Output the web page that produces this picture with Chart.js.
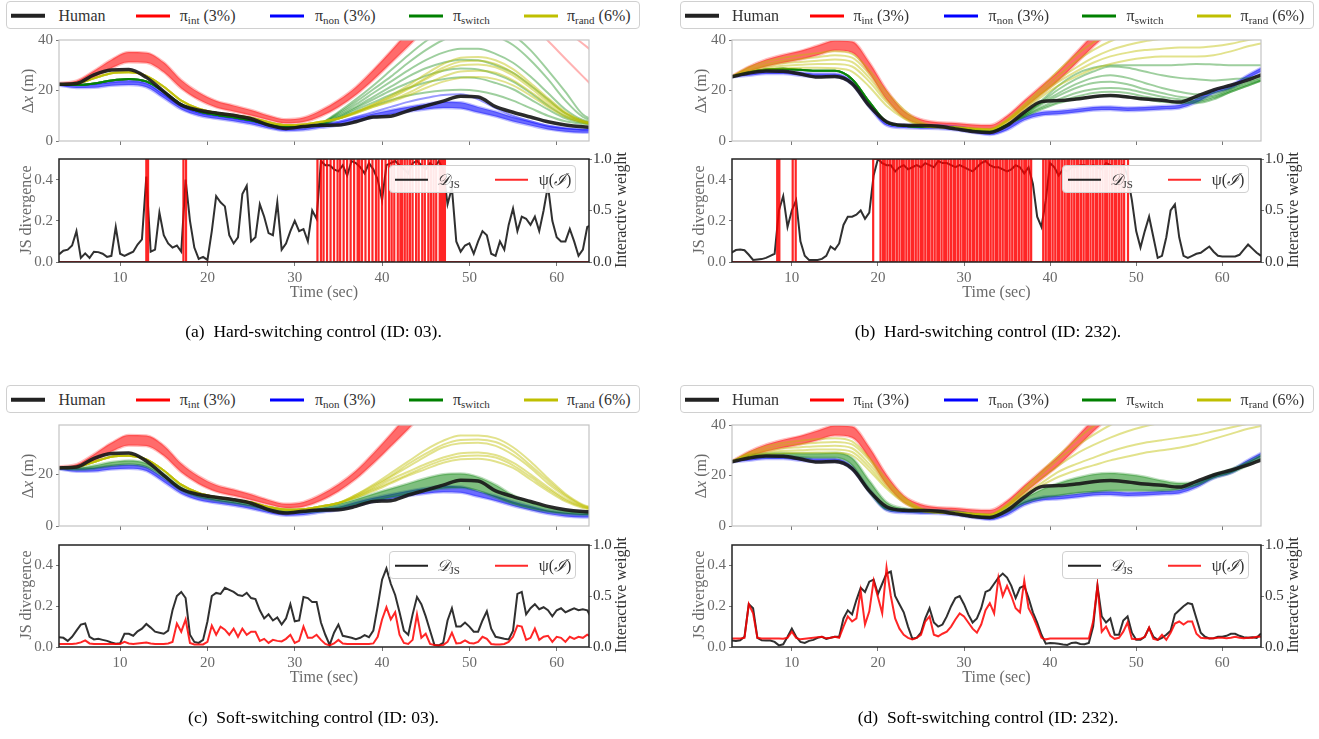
<!DOCTYPE html>
<html><head><meta charset="utf-8">
<script src="https://cdn.jsdelivr.net/npm/chart.js@4/dist/chart.umd.min.js"></script>
<style>
html,body{margin:0;padding:0;background:#fff;}
body{width:1319px;height:739px;position:relative;overflow:hidden;font-family:'Liberation Serif','DejaVu Serif',serif;}
canvas{position:absolute;}
.lbl{position:absolute;white-space:nowrap;transform:translate(-50%,-50%);line-height:1;}
.rot{transform:translate(-50%,-50%) rotate(-90deg);}
.leg{position:absolute;border:1px solid #d0d0d0;border-radius:4px;background:rgba(255,255,255,0.9);box-sizing:border-box;}
.sw{position:absolute;transform:translateY(-50%);}
.tx{position:absolute;white-space:nowrap;transform:translateY(-50%);line-height:1;color:#333;}
sub{font-size:11px;vertical-align:-3px;line-height:0;}
</style></head><body>
<script>
// ---------------- DATA ----------------
const XTICKS=[10,20,30,40,50,60];
const YT_TOP=[0,20,40], YT_TOP_C=[0,20], YT_JS=[0,0.2,0.4], YT_W=[0,0.5,1];
// top-panel time grid (s)
const T=[3,5,7,9,11,13,15,17,19,21,23,25,27,29,31,33,35,37,39,41,43,45,47,49,51,53,55,57,59,61,63,65];
// ---- ID 03 ----
const HUMAN03=[22.5,22.8,26.2,28.1,28.3,25.2,19.6,14.3,12.2,11.1,10.2,8.8,6.3,5.0,5.7,6.2,6.3,7.6,9.5,9.8,12.0,13.9,15.8,17.7,17.4,13.6,11.4,9.5,7.6,6.3,5.6,5.3];
const RED03_LO=[22.4,22.7,25.2,28.8,31.2,31.0,27.2,20.8,16.3,13.3,11.7,10.1,8.3,7.0,7.5,9.8,13.4,18.2,24.2,30.8,37.5,44.5,51.5,null,null,null,null,null,null,null,null,null];
const RED03_HI=[23.0,23.9,27.8,32.2,35.2,35.0,31.2,24.2,19.3,15.9,14.1,12.3,10.1,8.6,9.3,12.2,16.2,21.4,28.2,35.6,43.5,51.5,59.5,null,null,null,null,null,null,null,null,null];
const RED03_OUT1=[null,null,null,null,null,null,null,null,null,null,null,null,null,null,null,null,null,null,null,null,null,null,null,null,null,null,53.5,46.5,39.7,32.6,25.6,18.6];
const RED03_OUT2=[null,null,null,null,null,null,null,null,null,null,null,null,null,null,null,null,null,null,null,null,null,null,null,null,null,null,null,null,null,44,38.5,33];
const BLUE03_LO=[21.9,21.0,21.1,21.9,22.2,21.3,17.0,12.5,10.0,8.8,7.8,6.6,5.0,4.0,4.3,5.2,6.1,7.7,9.3,10.5,11.6,12.5,13.1,12.9,11.3,9.7,7.7,6.1,4.6,3.7,3.3,3.2];
const BLUE03_HI=[22.6,22.3,22.5,23.3,23.7,22.8,18.5,14.0,11.4,10.2,9.2,8.0,6.4,5.4,5.7,6.6,7.5,9.3,10.9,12.3,13.6,14.7,15.5,15.3,13.5,11.7,9.5,7.7,6.0,5.1,4.7,4.6];
const BLUE03_OUT=[22.6,22.3,22.6,23.5,24.0,23.0,18.5,13.8,11.2,10.0,9.0,7.8,6.2,5.2,5.5,6.5,7.6,9.5,11.5,13.5,15.5,17.0,18.2,18.5,16.5,13.0,10.0,7.8,6.0,5.0,4.5,4.3];
// green (hard-switching, ID 03): shared start t=3..31 and divergent tails t=33..65
const GREEN03_BASE=[22.4,22.2,22.8,24.0,24.6,23.6,19.5,14.5,11.8,10.4,9.4,8.2,6.6,5.7,5.8];
const G03_1=[7,11.5,16.5,22,28,34,39.5,44,46.5,47,46,42,36,28,19.5,10.5,7.5];
const G03_2=[7,11,15.5,20.5,25.5,31,36,40,42.5,43,41.5,38,32,24.5,16,9.5,7];
const G03_3=[6.8,10.5,14.5,19,23.5,28,32,35,36.5,36.5,34.5,31,25.5,19,12.5,8.3,6.8];
const G03_4=[6.6,10,13.5,17.5,21.5,25.5,28.8,31,32.2,32,30,27,22,16.5,11,7.8,6.6];
const G03_5=[6.5,9.5,13,16.5,20,23,25.8,27.8,28.7,28.3,26.5,23.5,19,14,9.8,7.5,6.4];
const G03_6=[6.4,9.2,12.3,15.3,18.3,21,23.2,24.5,25.2,24.8,23,20.5,16.5,12.5,9,7.2,6.3];
const G03_7=[6.2,8.8,11.5,14,16.2,18,19.2,20,20.3,19.8,18.3,16,13,10,7.8,6.8,6.2];
// yellow (ID 03): shared start t=3..35 and tails t=37..65
const YELLOW03_BASE=[22.5,22.8,24.8,26.8,27.2,25.8,21.5,16,12.8,11.2,10.2,9.2,7.4,6.3,6.5,7.6,8.9];
const Y03_1=[11.4,14.5,18,22,26.5,30.5,33,33.3,32,28.5,23,17,11.5,8,6.8];
const Y03_2=[11.4,14,17,20.5,24.5,28,30,30.3,29.2,26,21,15.5,10.8,7.7,6.6];
const Y03_3=[11,13.5,16,19,22.5,25.5,27.5,27.8,27,24,19.5,14.5,10,7.4,6.4];
const Y03_4=[11,13.5,15.5,18,21,23.5,25,25.3,24.5,22,18,13.5,9.5,7.2,6.2];
const Y03_5=[11.5,14.5,17.5,21,25,29,31.5,31.8,30.5,27,22,16.2,11,7.8,6.7];
// soft-switching (ID 03)
const GREEN03C_LO=[22.2,21.8,22.2,23.2,23.8,22.8,18.8,13.8,11.2,9.8,8.8,7.6,6.0,5.1,5.2,5.6,6.8,8.2,9.7,11.0,12.3,13.5,14.5,14.8,13.6,11.0,8.5,6.8,5.5,4.7,4.3,4.2];
const GREEN03C_HI=[22.6,22.6,23.4,24.8,25.4,24.4,20.2,15.2,12.4,11.0,10.0,8.8,7.2,6.3,6.4,7.0,8.6,10.4,12.5,14.5,16.5,18.5,20.0,20.3,19.0,16.0,12.0,9.2,7.2,5.9,5.4,5.2];
const YC_1=[12,16,20.5,25,29.5,33,35,35,34,30.5,25,18.5,12.5,8.3,6.5];
const YC_2=[12,15.5,19.5,24,28,31.5,33.3,33.5,32.5,29,23.5,17.5,12,8,6.3];
const YC_3=[11.5,15,19,23,27,30.5,32,32.2,31,27.5,22.5,16.5,11.5,7.8,6.2];
const YC_4=[11.5,14.5,18,21,24,26.5,28.2,28.5,27.5,24.5,20,15,10.5,7.5,6];
const YC_5=[11,14,17,20,23,25.5,27,27.3,26.5,23.5,19,14.3,10,7.3,5.9];
const YC_6=[11,13.5,16.5,19.5,22,24.5,25.8,26,25,22.5,18,13.5,9.5,7,5.8];
// ---- ID 232 ----
const HUMAN232=[25.4,26.9,27.7,27.6,26.5,25.3,25.5,22.7,13.9,7.6,6.2,6.1,5.8,4.8,3.8,3.4,6.1,11.4,15.6,16.0,16.6,17.5,18.0,17.4,16.6,16.1,15.4,17.7,20.2,22.1,24.2,26.7];
const RED232_LO=[25.3,27.5,29.5,31.0,32.3,34.0,35.8,35.0,26.8,16.3,9.3,6.6,5.8,5.5,4.9,4.7,7.6,13.0,18.5,24.0,30.6,37.3,43.5,50.5,null,null,null,null,null,null,null,null];
const RED232_HI=[25.7,29.5,32.3,34.2,35.7,37.8,39.8,39.4,31.2,20.3,12.1,8.6,7.4,7.1,6.5,6.3,10.0,16.0,21.9,27.8,35.0,42.1,48.5,55.5,null,null,null,null,null,null,null,null];
const BLUE232_LO=[25.2,25.8,26.5,26.5,25.8,25.3,25.3,22.3,13.3,6.1,5.1,4.9,4.8,4.3,3.3,2.4,4.3,8.2,10.1,10.6,11.3,12.1,12.3,11.9,12.1,12.5,12.9,15.2,18.8,20.8,24.8,28.3];
const BLUE232_HI=[25.8,27.2,27.9,27.9,27.2,26.7,26.7,23.7,14.7,7.5,6.5,6.3,6.2,5.7,4.7,3.7,5.7,9.6,11.5,12.0,12.7,13.5,13.7,13.3,13.5,13.9,14.3,16.8,20.2,22.2,26.2,29.9];
const GREEN232_BASE=[25.5,27.2,28.3,28.6,28.2,27.8,27.8,24.5,15.5,7.5,6.0,5.6,5.6,5.2,4.3,3.8,6.5];
const GB_1=[11,16,22,26.5,29,30,30,30,30,30.2,30.5,30.3,30,30,30];
const GB_2=[11,15.5,20.5,24.5,27.5,29.5,29,27.5,26,25,24.5,24,24.5,25,26];
const GB_3=[10.5,15,19,22.5,25,26,25,23,21,19.5,18.5,19,21,23.5,25.5];
const GB_4=[10.5,14.5,18,21,23,23.5,22.5,20.5,19,17.5,17,18,20.5,23,25];
const GB_5=[10,13.5,16.5,19,20.5,21,20.5,19,17.5,16.5,16,17.5,20,22.5,24.5];
const GB_6=[10,13,15.5,17.5,19,19.5,19,17.5,16.5,15.5,15.5,17,19.5,22,24.5];
const GB_7=[9.5,12.5,15,16.5,17.5,18,17.5,16.5,15.5,15,15,16.5,19.5,22,24.5];
const YB_1=[25.5,29.2,31.5,33,34,34.8,35.5,34.5,28,19.5,12.5,7.5,5.8,5.5,5.0,4.8,8.5,14.5,21,28,34,39,43,46,48,50,52,54,56,58,60,62];
const YB_2=[25.5,28.5,30.5,31.8,32.5,33.2,34,33,26.5,18,11.5,7,5.6,5.4,5.0,4.6,8.2,14,20,26,31.5,36,39.5,42,44,45.5,47,48.5,50,51.5,53,54.5];
const YB_3=[25.5,28,29.8,30.8,31.3,31.8,32.3,31.3,25,16.5,10.5,6.5,5.5,5.3,4.9,4.5,8,13.5,19,24.5,29,33,36,38,39.5,40.5,41.5,42.5,44,45,46,47];
const YB_4=[25.5,27.5,29,29.8,30.2,30.5,30.5,29.5,23.5,15.5,9.5,6.2,5.4,5.2,4.8,4.4,7.8,13,18.5,23.5,27.5,31,33.5,35,36,36.5,37,37,37.5,38.5,40,41];
const YB_5=[25.5,27.2,28.3,28.8,29,29,28.8,27.5,21.5,14,9,6,5.3,5.1,4.7,4.3,7.5,12.5,17.5,22,25.5,28.5,30.5,32,33,33.5,33.5,33.5,34,35.5,37.5,39];
const GREEN232D_LO=[25.4,26.8,27.3,27.3,27.0,27.0,27.0,24.0,13.5,6.5,5.8,5.5,5.3,4.8,3.8,3.2,5.5,9.0,11.0,12.0,13.0,13.5,14.0,14.0,14.0,14.0,14.5,16.0,19.0,21.0,24.0,27.5];
const GREEN232D_HI=[25.6,28.0,28.8,29.0,28.8,28.8,29.0,27.0,18.0,9.5,7.0,6.5,6.2,5.8,4.8,4.2,7.0,11.0,14.5,17.0,19.0,20.5,21.0,20.5,19.5,18.0,17.0,17.5,20.5,22.5,25.5,29.0];
const YD_1=[25.5,29,31.5,33,33.8,34.5,34.8,33.5,27,18.5,11.5,7,5.6,5.4,5,4.6,8.5,15,21.5,28,34,39.5,44,48,51,54,57,60,63,66,69,72];
const YD_2=[25.5,28.5,30.5,32,32.5,33,33.3,32.3,26,17.5,11,6.8,5.5,5.3,4.9,4.5,8.2,14.5,20.5,26.5,31.5,36,40,43,46,48.5,51,53,55,57,59,61];
const YD_3=[25.5,28,29.8,30.8,31.2,31.6,31.8,30.8,24.5,16.5,10.3,6.5,5.4,5.2,4.8,4.4,8,13.5,19,24,28.5,32,35,37.5,39.5,41,42.5,44,46,48,50,52];
const YD_4=[25.5,27.6,29,29.8,30,30.3,30.3,29.3,23.2,15.5,9.8,6.2,5.3,5.1,4.7,4.3,7.8,12.5,17,21.5,24.5,27,29.5,31.5,33,34,35,36,37.5,39,40.5,42];
const YD_5=[25.5,27.2,28.3,28.8,29,29.1,29,28,22,14.8,9.3,6,5.2,5,4.6,4.2,7.6,12,16,19.5,22,24,26,27.5,29,30,31,32.5,34.5,36.5,38.5,40];
// bottom-panel time grid (s)
const TJ=[3,3.5,4,4.5,5,5.5,6,6.5,7,7.5,8,8.5,9,9.5,10,10.5,11,11.5,12,12.5,13,13.5,14,14.5,15,15.5,16,16.5,17,17.5,
18,18.5,19,19.5,20,20.5,21,21.5,22,22.5,23,23.5,24,24.5,25,25.5,26,26.5,27,27.5,28,28.5,29,29.5,30,30.5,31,31.5,32,32.5,
33,33.5,34,34.5,35,35.5,36,36.5,37,37.5,38,38.5,39,39.5,40,40.5,41,41.5,42,42.5,43,43.5,44,44.5,45,45.5,46,46.5,47,47.5,
48,48.5,49,49.5,50,50.5,51,51.5,52,52.5,53,53.5,54,54.5,55,55.5,56,56.5,57,57.5,58,58.5,59,59.5,60,60.5,61,61.5,62,62.5,
63,63.5,64,64.5];
const JS_A=[0.037,0.055,0.06,0.08,0.15,0.02,0.042,0.02,0.05,0.048,
0.04,0.025,0.03,0.17,0.04,0.03,0.04,0.05,0.085,0.11,
0.415,0.05,0.06,0.24,0.13,0.09,0.07,0.08,0.05,0.40,
0.20,0.07,0.015,0.025,0.01,0.15,0.32,0.29,0.27,0.13,
0.09,0.12,0.33,0.37,0.10,0.12,0.28,0.22,0.14,0.13,
0.29,0.06,0.09,0.15,0.20,0.15,0.16,0.10,0.25,0.21,
0.49,0.47,0.47,0.45,0.44,0.47,0.42,0.49,0.48,0.46,
0.43,0.48,0.45,0.40,0.30,0.47,0.48,0.49,0.47,0.45,
0.43,0.48,0.49,0.47,0.45,0.48,0.46,0.49,0.45,0.28,
0.36,0.10,0.05,0.08,0.09,0.04,0.10,0.15,0.13,0.04,
0.03,0.10,0.06,0.18,0.26,0.15,0.22,0.21,0.18,0.22,
0.15,0.25,0.37,0.20,0.12,0.10,0.10,0.16,0.10,0.03,
0.06,0.17,0.18,0.18];
const PSI_A_ON=[[13.0,13.2],[17.25,17.55],[32.6,33.0],[33.3,33.7],[34.1,34.5],[34.9,35.2],[35.6,36.0],[36.4,36.8],[37.2,37.4],[37.7,38.1],[38.5,38.9],[39.3,39.6],[40.0,40.4],[40.8,41.1],[41.4,41.8],[42.1,42.3],[42.6,42.9],[43.2,43.5],[43.9,44.2],[44.6,44.9],[45.3,45.6],[45.9,46.2],[46.6,46.8],[47.0,47.2]];
const JS_B=[0.045,0.058,0.061,0.057,0.035,0.01,0.012,0.014,0.02,0.03,
0.04,0.25,0.32,0.17,0.25,0.30,0.10,0.03,0.01,0.01,
0.01,0.015,0.03,0.075,0.06,0.09,0.18,0.22,0.22,0.23,
0.25,0.21,0.24,0.42,0.50,0.48,0.47,0.47,0.44,0.46,
0.47,0.45,0.46,0.47,0.46,0.48,0.47,0.46,0.49,0.48,
0.48,0.47,0.46,0.47,0.46,0.45,0.44,0.46,0.48,0.49,
0.47,0.46,0.46,0.45,0.44,0.45,0.47,0.46,0.43,0.46,
0.38,0.22,0.17,0.30,0.48,0.46,0.42,0.45,0.44,0.46,
0.46,0.47,0.47,0.46,0.47,0.46,0.45,0.48,0.47,0.46,
0.46,0.47,0.42,0.30,0.15,0.07,0.15,0.22,0.12,0.02,
0.03,0.12,0.25,0.28,0.12,0.03,0.02,0.03,0.04,0.045,
0.06,0.075,0.05,0.03,0.027,0.027,0.027,0.027,0.035,0.06,
0.085,0.065,0.045,0.03];
const PSI_B_ON=[[8.3,8.55],[10.1,10.45],[19.45,20.3],[20.6,20.8],[21.1,21.4],[21.7,21.9],[22.2,22.5],[22.8,23.0],[23.3,23.6],[23.9,24.1],[24.4,24.7],[25.0,25.2],[25.5,25.8],[26.0,26.3],[26.6,26.9],[27.1,27.4],[27.7,27.9],[28.2,28.5],[28.8,29.0],[29.3,29.6],[29.9,30.1],[30.4,30.7],[31.0,31.2],[31.5,31.8],[32.0,32.3],[32.6,32.8],[33.1,33.4],[33.7,33.9],[34.2,34.5],[34.8,35.0],[35.3,35.6],[35.9,36.1],[36.4,36.7],[37.0,37.2],[37.5,37.8],[39.2,39.5],[39.8,40.0],[40.3,40.6],[40.9,41.1],[41.4,41.7],[42.0,42.2],[42.5,42.8],[43.1,43.3],[43.6,43.9],[44.2,44.4],[44.7,45.0],[45.3,45.5],[45.8,46.1],[46.4,46.6],[46.9,47.2],[47.5,47.7],[48.0,48.3],[48.6,49.05]];
const JS_C=[0.048,0.045,0.03,0.05,0.08,0.11,0.115,0.05,0.037,0.04,
0.035,0.03,0.022,0.016,0.018,0.065,0.065,0.055,0.077,0.09,
0.113,0.095,0.075,0.07,0.065,0.08,0.18,0.25,0.27,0.24,
0.06,0.025,0.02,0.035,0.125,0.25,0.265,0.26,0.29,0.28,
0.27,0.255,0.25,0.265,0.24,0.235,0.18,0.14,0.16,0.13,
0.145,0.11,0.14,0.21,0.126,0.13,0.245,0.24,0.22,0.22,
0.12,0.06,0.01,0.07,0.11,0.055,0.05,0.045,0.038,0.045,
0.058,0.048,0.08,0.2,0.33,0.385,0.31,0.255,0.17,0.08,
0.06,0.16,0.245,0.21,0.15,0.08,0.01,0.008,0.02,0.13,
0.19,0.10,0.10,0.12,0.10,0.075,0.075,0.13,0.175,0.09,
0.05,0.045,0.04,0.037,0.08,0.26,0.27,0.16,0.19,0.21,
0.185,0.195,0.18,0.15,0.18,0.19,0.17,0.18,0.19,0.18,
0.185,0.18,0.14,0.14];
const PSI_C=[0.03,0.03,0.03,0.03,0.035,0.045,0.065,0.035,0.03,0.03,
0.03,0.03,0.03,0.03,0.03,0.05,0.035,0.03,0.035,0.04,
0.045,0.035,0.03,0.03,0.03,0.035,0.05,0.23,0.15,0.27,
0.04,0.025,0.025,0.025,0.05,0.21,0.12,0.2,0.17,0.12,
0.18,0.1,0.18,0.12,0.15,0.15,0.06,0.08,0.04,0.07,
0.06,0.055,0.08,0.12,0.04,0.06,0.2,0.09,0.09,0.12,
0.07,0.03,0.015,0.035,0.07,0.035,0.03,0.03,0.03,0.03,
0.03,0.03,0.035,0.1,0.27,0.39,0.27,0.34,0.12,0.04,
0.03,0.07,0.32,0.09,0.13,0.03,0.02,0.015,0.02,0.05,
0.14,0.035,0.04,0.065,0.04,0.035,0.05,0.1,0.08,0.03,
0.025,0.025,0.03,0.05,0.1,0.21,0.2,0.07,0.09,0.18,
0.07,0.1,0.11,0.05,0.1,0.09,0.05,0.1,0.08,0.1,
0.09,0.12,0.1,0.1];
const JS_D=[0.032,0.03,0.033,0.05,0.21,0.19,0.045,0.033,0.032,0.032,
0.025,0.008,0.013,0.05,0.09,0.05,0.025,0.02,0.03,0.035,
0.045,0.05,0.04,0.045,0.05,0.05,0.14,0.18,0.16,0.23,
0.29,0.27,0.32,0.33,0.26,0.31,0.36,0.37,0.25,0.21,
0.17,0.1,0.04,0.045,0.07,0.14,0.19,0.12,0.1,0.11,
0.15,0.2,0.24,0.25,0.21,0.16,0.12,0.14,0.19,0.27,
0.28,0.31,0.34,0.36,0.34,0.3,0.24,0.29,0.30,0.24,
0.17,0.12,0.06,0.016,0.02,0.018,0.016,0.012,0.01,0.02,
0.022,0.015,0.014,0.02,0.1,0.3,0.15,0.12,0.14,0.06,
0.06,0.13,0.15,0.07,0.035,0.035,0.05,0.094,0.05,0.035,
0.045,0.06,0.08,0.16,0.18,0.2,0.215,0.21,0.14,0.07,
0.05,0.042,0.043,0.05,0.05,0.055,0.065,0.065,0.055,0.048,
0.045,0.048,0.045,0.066];
const PSI_D=[0.084,0.084,0.084,0.09,0.42,0.33,0.09,0.084,0.084,0.084,
0.084,0.084,0.08,0.09,0.15,0.09,0.075,0.08,0.085,0.09,
0.095,0.1,0.085,0.09,0.1,0.09,0.2,0.3,0.25,0.28,
0.55,0.22,0.35,0.65,0.49,0.33,0.78,0.5,0.28,0.18,
0.12,0.09,0.075,0.09,0.12,0.25,0.3,0.12,0.105,0.13,
0.15,0.2,0.27,0.33,0.3,0.24,0.18,0.14,0.22,0.36,
0.43,0.33,0.68,0.5,0.6,0.5,0.38,0.34,0.65,0.38,
0.3,0.2,0.09,0.075,0.084,0.084,0.084,0.084,0.084,0.084,
0.084,0.084,0.084,0.084,0.25,0.6,0.15,0.2,0.11,0.08,
0.09,0.15,0.24,0.08,0.075,0.08,0.1,0.19,0.08,0.07,
0.12,0.07,0.14,0.23,0.25,0.22,0.25,0.25,0.13,0.09,
0.085,0.085,0.085,0.09,0.09,0.085,0.09,0.1,0.09,0.085,
0.09,0.09,0.1,0.1];
const LEGEND_LABELS=['Human','π<sub>int</sub> (3%)','π<sub>non</sub> (3%)','π<sub>switch</sub>','π<sub>rand</sub> (6%)'];
const CAPTIONS=['(a)&nbsp; Hard-switching control (ID: 03).','(b)&nbsp; Hard-switching control (ID: 232).','(c)&nbsp; Soft-switching control (ID: 03).','(d)&nbsp; Soft-switching control (ID: 232).'];

// ---------------- STYLE / LAYOUT ----------------
const FONT="'Liberation Serif','DejaVu Serif',serif";
Chart.defaults.font.family=FONT;
const C_RED='255,0,0',C_BLUE='0,0,255',C_GREEN='0,128,0',C_YEL='191,191,0';
function rgba(c,a){return 'rgba('+c+','+a+')';}
function P(xs,ys){return xs.map((x,i)=>({x:x,y:ys[i]}));}
function L(xs,ys,col,w,order,extra){return Object.assign({data:P(xs,ys),borderColor:col,borderWidth:w,pointRadius:0,fill:false,order:order,cubicInterpolationMode:'monotone'},extra||{});}
function band(ds,xs,lo,hi,c,order,a){const i=ds.length;ds.push(L(xs,lo,rgba(c,0.25),2.5,order));ds.push(L(xs,hi,rgba(c,0.25),2.5,order,{fill:{target:i},backgroundColor:rgba(c,a||0.58)}));}
function steps(iv,t0,t1){const o=[{x:t0,y:0}];iv.forEach(p=>{o.push({x:p[0],y:0},{x:p[0],y:1},{x:p[1],y:1},{x:p[1],y:0});});o.push({x:t1,y:0});return o;}
const frame={id:'frame',afterDraw(ch,args,opts){const a=ch.chartArea,c=ch.ctx;c.save();c.strokeStyle=opts.color;c.lineWidth=opts.width;c.strokeRect(a.left,a.top,a.right-a.left,a.bottom-a.top);c.restore();}};

function makeChart(area,datasets,o){
  const YW=50,RW=o.right?40:0,PR=8,PT=10,XH=o.xh;
  const w=(area.r-area.l)+YW+RW+PR,h=(area.b-area.t)+PT+XH;
  const cv=document.createElement('canvas');cv.width=w;cv.height=h;
  cv.style.left=(area.l-YW)+'px';cv.style.top=(area.t-PT)+'px';cv.style.width=w+'px';cv.style.height=h+'px';
  document.body.appendChild(cv);
  const tickGrid=(len)=>({display:true,drawOnChartArea:false,drawTicks:true,tickLength:len,tickColor:'#777',tickWidth:1});
  const scales={
    x:{type:'linear',min:o.xmin,max:o.xmax,afterBuildTicks:s=>{s.ticks=XTICKS.map(v=>({value:v}));},afterFit:s=>{s.height=XH;},
       grid:tickGrid(4),border:{display:false},
       ticks:{display:!!o.xlabels,color:'#6a6a6a',font:{size:15},padding:3,maxRotation:0,autoSkip:false,callback:v=>String(v)}},
    y:{type:'linear',min:0,max:o.ymax,afterBuildTicks:s=>{s.ticks=o.yticks.map(v=>({value:v}));},afterFit:s=>{s.width=YW;},
       grid:tickGrid(3),border:{display:false},
       ticks:{color:'#6a6a6a',font:{size:15},padding:3,callback:o.yfmt}}
  };
  if(o.right){scales.y1={type:'linear',position:'right',min:0,max:1,afterBuildTicks:s=>{s.ticks=YT_W.map(v=>({value:v}));},afterFit:s=>{s.width=RW;},
       grid:tickGrid(3),border:{display:false},ticks:{color:'#333',font:{size:15},padding:1,callback:v=>v.toFixed(1)}};}
  new Chart(cv,{type:'line',data:{datasets:datasets},options:{responsive:false,animation:false,devicePixelRatio:1,events:[],
    layout:{padding:{left:0,right:PR,top:PT,bottom:0}},
    plugins:{legend:{display:false},tooltip:{enabled:false},frame:{color:o.frameColor,width:o.frameWidth}},scales:scales},plugins:[frame]});
}
function addText(html,x,y,css,rot){const d=document.createElement('div');d.className='lbl'+(rot?' rot':'');d.innerHTML=html;d.style.cssText+='left:'+x+'px;top:'+y+'px;'+(css||'');document.body.appendChild(d);}
function addLegend(x,y){
  const box=document.createElement('div');box.className='leg';box.style.cssText+='left:'+x+'px;top:'+y+'px;width:634px;height:27.5px;background:#fff;';
  const sw=[4,129,262.6,401.4,516.4],tx=[51,172.4,307.6,445.6,559.6],cols=['#222','#ff0000','#0000ff','#008000','#bfbf00'],th=[4.5,3,3,3,3];
  for(let i=0;i<5;i++){
    const s=document.createElement('div');s.className='sw';s.style.cssText+='left:'+sw[i]+'px;top:13.5px;width:34px;height:'+th[i]+'px;background:'+cols[i]+';';box.appendChild(s);
    const t=document.createElement('div');t.className='tx';t.innerHTML=LEGEND_LABELS[i];t.style.cssText+='left:'+tx[i]+'px;top:13.5px;font-size:16px;';box.appendChild(t);
  }
  document.body.appendChild(box);
}
function addInnerLegend(x,y){
  const box=document.createElement('div');box.className='leg';box.style.cssText+='left:'+x+'px;top:'+y+'px;width:187px;height:27.5px;';
  const items=[[5,'#222','<span style="font-family:\'DejaVu Serif\',serif;font-style:italic">𝒟</span><sub>JS</sub>',46.6],[104.8,'#ff2a2a','ψ(<span style="font-family:\'DejaVu Serif\',serif;font-style:italic">ℐ</span>)',148.7]];
  items.forEach(it=>{
    const s=document.createElement('div');s.className='sw';s.style.cssText+='left:'+it[0]+'px;top:13.5px;width:33px;height:2.5px;background:'+it[1]+';';box.appendChild(s);
    const t=document.createElement('div');t.className='tx';t.innerHTML=it[2];t.style.cssText+='left:'+it[3]+'px;top:13.5px;font-size:16px;';box.appendChild(t);
  });
  document.body.appendChild(box);
}

const AREAS={
  aT:{l:59,r:589,t:38,b:143},aB:{l:59,r:589,t:157,b:262},
  bT:{l:732,r:1261,t:38,b:143},bB:{l:732,r:1261,t:157,b:262},
  cT:{l:59,r:589,t:423,b:528},cB:{l:59,r:589,t:543,b:647},
  dT:{l:732,r:1261,t:423,b:528},dB:{l:732,r:1261,t:543,b:647}
};
const XR03={xmin:3,xmax:63.7}, XR232={xmin:3.05,xmax:64.5};
const topOpt=(xr,ymax,yt)=>Object.assign({xh:10,ymax:ymax,yticks:yt,yfmt:v=>String(v),frameColor:'#c4c4c4',frameWidth:1.2},xr);
const botOpt=(xr)=>Object.assign({xh:40,xlabels:true,right:true,ymax:0.5,yticks:YT_JS,yfmt:v=>v.toFixed(1),frameColor:'#222',frameWidth:1.5},xr);
const HUMAN_COL='rgba(25,25,25,0.92)';

// ---- (a) top ----
(function(){const ds=[];
 band(ds,T,RED03_LO,RED03_HI,C_RED,50);
 ds.push(L(T,RED03_OUT1,rgba(C_RED,0.3),2,50));ds.push(L(T,RED03_OUT2,rgba(C_RED,0.3),2,50));
 band(ds,T,BLUE03_LO,BLUE03_HI,C_BLUE,40);ds.push(L(T,BLUE03_OUT,rgba(C_BLUE,0.4),2,40));
 [G03_1,G03_2,G03_3,G03_4,G03_5,G03_6,G03_7].forEach(g=>ds.push(L(T,GREEN03_BASE.concat(g),rgba(C_GREEN,0.38),2,30)));
 [Y03_1,Y03_2,Y03_3,Y03_4,Y03_5].forEach(y=>ds.push(L(T,YELLOW03_BASE.concat(y),rgba(C_YEL,0.45),2,20)));
 ds.push(L(T,HUMAN03,HUMAN_COL,3.5,0));
 makeChart(AREAS.aT,ds,topOpt(XR03,40,YT_TOP));})();
// ---- (b) top ----
(function(){const ds=[];
 band(ds,T,RED232_LO,RED232_HI,C_RED,50);
 band(ds,T,BLUE232_LO,BLUE232_HI,C_BLUE,40);
 [GB_1,GB_2,GB_3,GB_4,GB_5,GB_6,GB_7].forEach(g=>ds.push(L(T,GREEN232_BASE.concat(g),rgba(C_GREEN,0.38),2,30)));
 [YB_1,YB_2,YB_3,YB_4,YB_5].forEach(y=>ds.push(L(T,y,rgba(C_YEL,0.45),2,20)));
 ds.push(L(T,HUMAN232,HUMAN_COL,3.5,0));
 makeChart(AREAS.bT,ds,topOpt(XR232,40,YT_TOP));})();
// ---- (c) top ----
(function(){const ds=[];
 band(ds,T,RED03_LO,RED03_HI,C_RED,50);
 band(ds,T,BLUE03_LO,BLUE03_HI,C_BLUE,40);
 band(ds,T,GREEN03C_LO,GREEN03C_HI,C_GREEN,30,0.5);
 [YC_1,YC_2,YC_3,YC_4,YC_5,YC_6].forEach(y=>ds.push(L(T,YELLOW03_BASE.concat(y),rgba(C_YEL,0.45),2,20)));
 ds.push(L(T,HUMAN03,HUMAN_COL,3.5,0));
 makeChart(AREAS.cT,ds,topOpt(XR03,39.1,YT_TOP_C));})();
// ---- (d) top ----
(function(){const ds=[];
 band(ds,T,RED232_LO,RED232_HI,C_RED,50);
 band(ds,T,BLUE232_LO,BLUE232_HI,C_BLUE,40);
 band(ds,T,GREEN232D_LO,GREEN232D_HI,C_GREEN,30,0.5);
 [YD_1,YD_2,YD_3,YD_4,YD_5].forEach(y=>ds.push(L(T,y,rgba(C_YEL,0.45),2,20)));
 ds.push(L(T,HUMAN232,HUMAN_COL,3.5,0));
 makeChart(AREAS.dT,ds,topOpt(XR232,40,YT_TOP));})();

// ---- bottom panels ----
const JS_STYLE={cubicInterpolationMode:'default',tension:0,yAxisID:'y'};
function psiSteps(iv,xr){return {data:steps(iv,xr.xmin-0.5,xr.xmax+0.5),borderColor:'rgba(255,0,0,0.85)',borderWidth:2.2,pointRadius:0,fill:false,order:0,tension:0,yAxisID:'y1'};}
makeChart(AREAS.aB,[L(TJ,JS_A,'rgba(25,25,25,0.9)',2,1,JS_STYLE),psiSteps(PSI_A_ON,XR03)],botOpt(XR03));
makeChart(AREAS.bB,[L(TJ,JS_B,'rgba(25,25,25,0.9)',2,1,JS_STYLE),psiSteps(PSI_B_ON,XR232)],botOpt(XR232));
makeChart(AREAS.cB,[L(TJ,JS_C,'rgba(25,25,25,0.9)',2,1,JS_STYLE),L(TJ,PSI_C,'rgba(255,0,0,0.85)',2,0,{cubicInterpolationMode:'default',tension:0,yAxisID:'y1'})],botOpt(XR03));
makeChart(AREAS.dB,[L(TJ,JS_D,'rgba(25,25,25,0.9)',2,1,JS_STYLE),L(TJ,PSI_D,'rgba(255,0,0,0.85)',2,0,{cubicInterpolationMode:'default',tension:0,yAxisID:'y1'})],botOpt(XR232));

// ---- text ----
const GRAY='color:#6a6a6a;font-size:16px;';
[['a',0],['b',1],['c',2],['d',3]].forEach(([k,i])=>{
  const tA=AREAS[k+'T'],bA=AREAS[k+'B'];
  addText('Δ<i>x</i> (m)',tA.l-31.5,(tA.t+tA.b)/2,GRAY,true);
  addText('JS divergence',bA.l-33,(bA.t+bA.b)/2,GRAY,true);
  addText('Interactive weight',bA.r+31.5,(bA.t+bA.b)/2,'color:#333;font-size:16px;',true);
  addText('Time (sec)',(bA.l+bA.r)/2,bA.b+30,GRAY);
});
addLegend(6.4,1);addLegend(680,1);addLegend(6.4,385);addLegend(680,385);
addInnerLegend(389,165.3);addInnerLegend(1062,165.3);addInnerLegend(389,551.3);addInnerLegend(1062,551.3);
addText(CAPTIONS[0],313.5,332,'font-size:17.5px;color:#000;');
addText(CAPTIONS[1],988,332,'font-size:17.5px;color:#000;');
addText(CAPTIONS[2],313.5,718,'font-size:17.5px;color:#000;');
addText(CAPTIONS[3],988,718,'font-size:17.5px;color:#000;');
</script>
</body></html>
